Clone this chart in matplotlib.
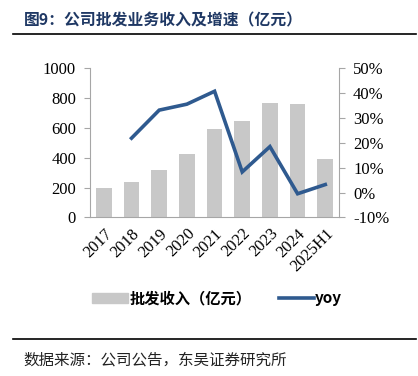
import matplotlib
matplotlib.use("Agg")
import matplotlib.pyplot as plt
from matplotlib.lines import Line2D
from matplotlib.patches import Patch

# data
years = ["2017", "2018", "2019", "2020", "2021", "2022", "2023", "2024", "2025H1"]
revenue = [197, 237, 315, 425, 595, 646, 765, 760, 389]
yoy_years = ["2018", "2019", "2020", "2021", "2022", "2023", "2024", "2025H1"]
yoy = [21.9, 33.2, 35.6, 40.8, 8.3, 18.5, -0.5, 3.2]

left_ticks = [0, 200, 400, 600, 800, 1000]
right_ticks = [-10, 0, 10, 20, 30, 40, 50]

cjk = ["Noto Sans CJK SC", "DejaVu Sans"]
serif = "Liberation Serif"
navy = "#1F3864"
spine_c = "#A6A6A6"
tick_fs = 12

fig = plt.figure(figsize=(4.18, 3.76), dpi=100)

# title and rules
fig.text(0.058, 0.947, "图9：公司批发业务收入及增速（亿元）", family=cjk,
         fontsize=11.4, fontweight="bold", color=navy, va="center")
fig.add_artist(Line2D([0.031, 0.995], [0.91, 0.91], color="black", lw=1.2))
fig.add_artist(Line2D([0.031, 0.995], [0.098, 0.098], color="black", lw=1.2))
fig.text(0.055, 0.043, "数据来源：公司公告，东吴证券研究所", family=cjk,
         fontsize=11.2, color="#222222", va="center")

ax = fig.add_axes([0.2153, 0.422, 0.596, 0.396])
x = list(range(len(years)))
ax.bar(x, revenue, width=0.57, color="#C8C8C8", zorder=1)
ax.set_xlim(-0.5, len(years) - 0.5)
ax.set_ylim(0, 1000)
ax.set_yticks(left_ticks)
ax.set_yticklabels([str(v) for v in left_ticks], family=serif, fontsize=tick_fs)
ax.set_xticks(x)
ax.set_xticklabels(years, family=serif, fontsize=tick_fs, rotation=45,
                   ha="right", rotation_mode="anchor")
ax.tick_params(axis="x", length=0, pad=6)
ax.tick_params(axis="y", length=4, color=spine_c, pad=6)
for s in ["top", "right"]:
    ax.spines[s].set_visible(False)
for s in ["left", "bottom"]:
    ax.spines[s].set_color(spine_c)

ax2 = ax.twinx()
yx = [years.index(y) for y in yoy_years]
ax2.plot(yx, yoy, color="#2F5A8F", lw=2.6, solid_joinstyle="miter")
ax2.set_ylim(-10, 50)
ax2.set_yticks(right_ticks)
ax2.set_yticklabels([f"{v}%" for v in right_ticks], family=serif, fontsize=tick_fs)
ax2.tick_params(axis="y", length=4, color=spine_c, pad=6)
for s in ["top", "left", "bottom"]:
    ax2.spines[s].set_visible(False)
ax2.spines["right"].set_color(spine_c)

handles = [Patch(color="#C8C8C8", label="批发收入（亿元）"),
           Line2D([], [], color="#2F5A8F", lw=2.6, label="yoy")]
leg = fig.legend(handles=handles, loc="center", bbox_to_anchor=(0.52, 0.207),
                 ncol=2, frameon=False, handlelength=2.3, handleheight=0.6,
                 columnspacing=1.8, handletextpad=0.1,
                 prop={"family": cjk, "weight": "bold", "size": 11})

fig.savefig("out.png", dpi=100)
